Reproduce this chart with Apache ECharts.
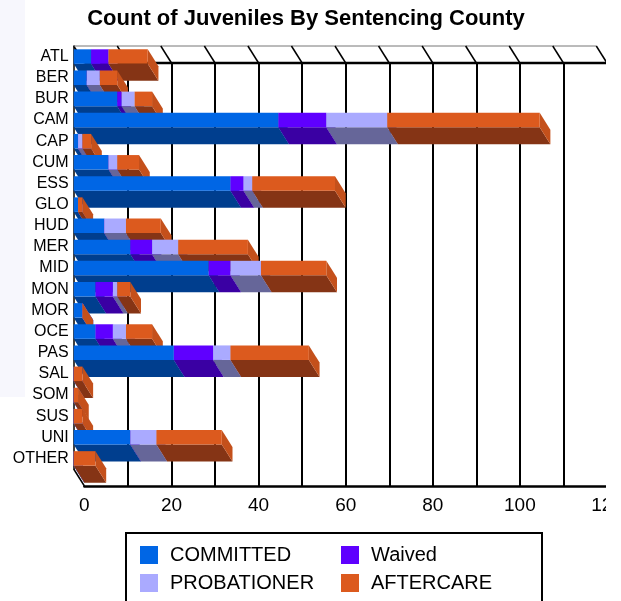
<!DOCTYPE html>
<html>
<head>
<meta charset="utf-8">
<script src="https://cdn.jsdelivr.net/npm/echarts@6/dist/echarts.min.js"></script>
<style>
	html, body { margin: 0; padding: 0; background: #fff; }
	#chart { width: 621px; height: 601px; }
</style>
</head>
<body>
<div id="chart"></div>
<script>
// counties, top to bottom
const categories = ['ATL', 'BER', 'BUR', 'CAM', 'CAP', 'CUM', 'ESS', 'GLO', 'HUD', 'MER',
	'MID', 'MON', 'MOR', 'OCE', 'PAS', 'SAL', 'SOM', 'SUS', 'UNI', 'OTHER'];

// counts per status
const committed   = [4, 3, 10, 47, 1, 8, 36, 1, 7, 13, 31, 5, 2, 5, 23, 0, 0, 0, 13, 0];
const waived      = [4, 0, 1, 11, 0, 0, 3, 0, 0, 5, 5, 4, 0, 4, 9, 0, 0, 0, 0, 0];
const probationer = [0, 3, 3, 14, 1, 2, 2, 0, 5, 6, 7, 1, 0, 3, 4, 0, 0, 0, 6, 0];
const aftercare   = [9, 4, 4, 35, 2, 5, 19, 1, 8, 16, 15, 3, 0, 6, 18, 2, 1, 2, 15, 5];

const xMax = 120;
const xStep = 10;
const frameTicks = [0, 10, 20, 30, 40, 50, 60, 70, 80, 90, 100, 110, 120];

const FONT = '"Liberation Sans", Arial, sans-serif';
// 3D depth offset (front plane is up-left of the back wall)
const DX = 10.7;
const DY = 17;

const statusList = [
	{ name: 'COMMITTED', values: committed, front: '#0066e5', bottom: '#003e8e', end: '#0050b4' },
	{ name: 'Waived', values: waived, front: '#5f00ff', bottom: '#3a00a3', end: '#4a00cc' },
	{ name: 'PROBATIONER', values: probationer, front: '#aaaaff', bottom: '#666699', end: '#8888cc' },
	{ name: 'AFTERCARE', values: aftercare, front: '#dc5a1e', bottom: '#853415', end: '#c4501b' },
];

// stacked start / end per row
const stackBase = categories.map(() => 0);
const segments = statusList.map((s) =>
	s.values.map((v, row) => {
		const start = stackBase[row];
		stackBase[row] += v;
		return [start, start + v, row];
	})
);

function makeBarRenderer(k) {
	const st = statusList[k];
	return function (params, api) {
		const start = api.value(0);
		const end = api.value(1);
		const row = api.value(2);
		const p0 = api.coord([start, row]);
		const p1 = api.coord([end, row]);
		const band = api.size([0, 1])[1];
		const h = band * 0.686;
		const yb = p0[1] - h / 2; // back face top
		const yt = yb - DY; // front face top
		const xf0 = p0[0] - DX;
		const xf1 = p1[0] - DX;
		const z2 = row * 10 + k;
		return {
			type: 'group',
			children: [
				{
					type: 'polygon',
					z2: z2,
					shape: { points: [[xf0, yt + h], [xf1, yt + h], [p1[0], yb + h], [p0[0], yb + h]] },
					style: { fill: st.bottom },
				},
				{
					type: 'polygon',
					z2: z2,
					shape: { points: [[xf1, yt], [p1[0], yb], [p1[0], yb + h], [xf1, yt + h]] },
					style: { fill: st.end },
				},
				{
					type: 'rect',
					z2: z2,
					shape: { x: xf0, y: yt, width: xf1 - xf0, height: h },
					style: { fill: st.front },
				},
			],
		};
	};
}

// ceiling slants, top edges and the lower-left depth edge
function renderFrame(params, api) {
	const v = api.value(0);
	const band = api.size([0, 1])[1];
	const p = api.coord([v, 0]);
	const topY = p[1] - band / 2;
	const children = [
		{
			type: 'line',
			shape: { x1: p[0] - DX, y1: topY - DY, x2: p[0], y2: topY },
			style: { stroke: '#000', lineWidth: 1.5 },
		},
	];
	if (params.dataIndex === 0) {
		const xEnd = api.coord([xMax, 0])[0];
		const botY = api.coord([0, categories.length - 1])[1] + band / 2;
		children.push(
			{
				type: 'line',
				shape: { x1: p[0] - DX, y1: topY - DY, x2: xEnd - DX, y2: topY - DY },
				style: { stroke: '#777', lineWidth: 1 },
			},
			{
				type: 'line',
				shape: { x1: p[0], y1: topY, x2: xEnd, y2: topY },
				style: { stroke: '#000', lineWidth: 2.5 },
			},
			{
				type: 'line',
				shape: { x1: p[0] - DX, y1: botY - DY, x2: p[0], y2: botY },
				style: { stroke: '#000', lineWidth: 1.5 },
			}
		);
	}
	return { type: 'group', children };
}

const chart = echarts.init(document.getElementById('chart'));

const option = {
	backgroundColor: '#fff',
	animation: false,
	title: {
		text: 'Count of Juveniles By Sentencing County',
		left: 301,
		top: 3,
		textAlign: 'center',
		textStyle: { fontFamily: FONT, fontSize: 22, fontWeight: 'bold', color: '#000' },
	},
	grid: [
		// back wall
		{ left: 84.4, top: 63, width: 522.6, height: 423, outerBoundsMode: 'none', containLabel: false },
		// front plane (only for the county labels and left edge)
		{ left: 84.4 - DX, top: 63 - DY, width: 522.6, height: 423, outerBoundsMode: 'none', containLabel: false },
	],
	xAxis: [
		{
			gridIndex: 0,
			type: 'value',
			min: 0,
			max: xMax,
			interval: xStep,
			axisLine: { show: true, lineStyle: { color: '#000', width: 2.5 } },
			axisTick: { show: false },
			axisLabel: {
				margin: 10,
				fontFamily: FONT,
				fontSize: 19,
				color: '#000',
				formatter: (v) => (v % 20 === 0 ? String(v) : ''),
			},
			splitLine: { show: true, showMinLine: false, showMaxLine: false, lineStyle: { color: '#000', width: 2 } },
		},
		{ gridIndex: 1, type: 'value', min: 0, max: xMax, show: false },
	],
	yAxis: [
		{ gridIndex: 0, type: 'category', inverse: true, data: categories, show: false },
		{
			gridIndex: 1,
			type: 'category',
			inverse: true,
			data: categories,
			axisLine: { show: true, lineStyle: { color: '#000', width: 1.5 } },
			axisTick: { show: false },
			axisLabel: { margin: 5, fontFamily: FONT, fontSize: 16, color: '#000' },
			splitLine: { show: false },
		},
	],
	legend: statusList.map((s, i) => ({
		data: [s.name],
		left: [140, 341][i % 2],
		top: [545, 573][Math.floor(i / 2)],
		padding: 0,
		icon: 'rect',
		itemWidth: 18,
		itemHeight: 18,
		selectedMode: false,
		textStyle: { fontFamily: FONT, fontSize: 20, color: '#000', padding: [0, 0, 0, 7] },
	})),
	graphic: [
		{ type: 'rect', z: -10, shape: { x: 0, y: 0, width: 25, height: 397 }, style: { fill: '#f7f7fd' } },
		{
			type: 'rect',
			z: 1,
			shape: { x: 126, y: 533, width: 416, height: 80 },
			style: { fill: '#fff', stroke: '#000', lineWidth: 2 },
		},
		{ type: 'rect', z: 100, shape: { x: 606, y: 0, width: 20, height: 530 }, style: { fill: '#fff' } },
	],
	series: [
		{
			type: 'custom',
			name: 'frame',
			silent: true,
			z: 1,
			xAxisIndex: 0,
			yAxisIndex: 0,
			encode: { x: 0, y: 1 },
			data: frameTicks.map((v) => [v, 0]),
			renderItem: renderFrame,
		},
		...statusList.map((s, k) => ({
			type: 'custom',
			name: s.name,
			silent: true,
			z: 2,
			xAxisIndex: 0,
			yAxisIndex: 0,
			itemStyle: { color: s.front },
			encode: { x: [0, 1], y: 2 },
			data: segments[k],
			renderItem: makeBarRenderer(k),
		})),
	],
};

chart.setOption(option);
</script>
</body>
</html>
